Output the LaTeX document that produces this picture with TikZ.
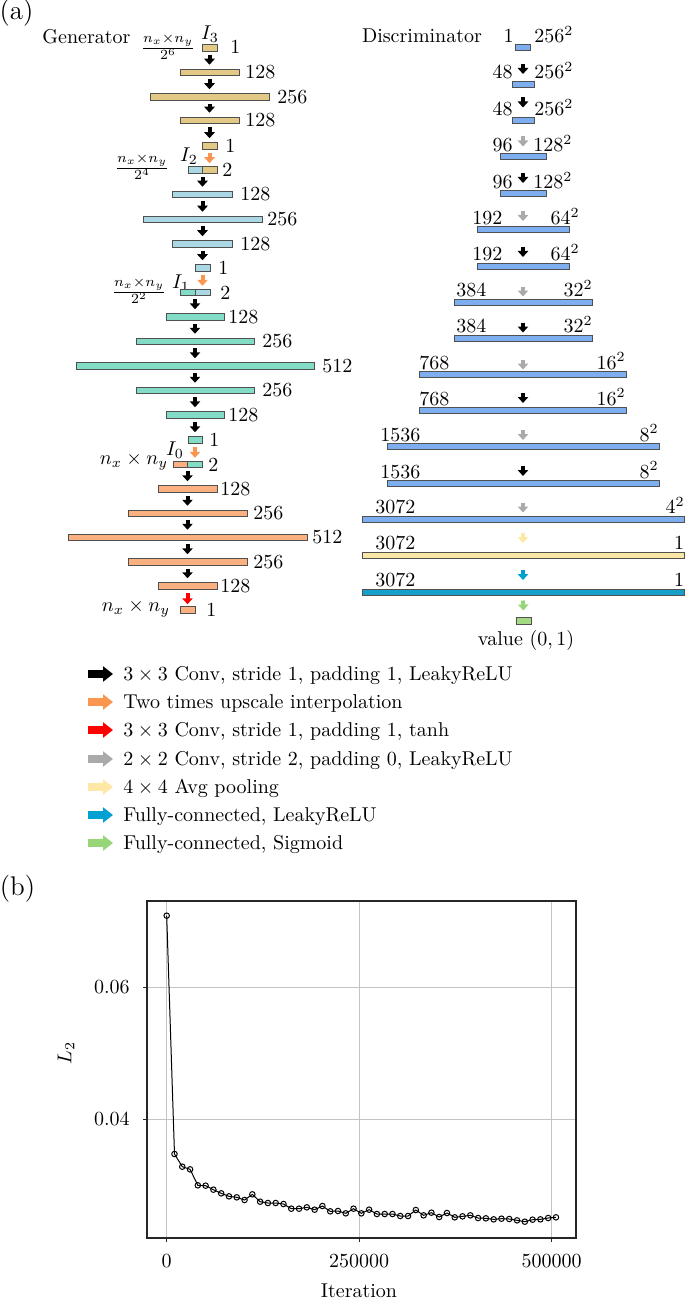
\documentclass[tikz,border=0pt]{standalone}
\usetikzlibrary{arrows.meta,calc}
\definecolor{edgec}{RGB}{80,80,80}
\definecolor{tanC}{RGB}{226,201,133}
\definecolor{lblueC}{RGB}{170,216,228}
\definecolor{lgreenC}{RGB}{130,220,198}
\definecolor{lorangeC}{RGB}{250,176,128}
\definecolor{dblueC}{RGB}{125,174,240}
\definecolor{yellowC}{RGB}{250,230,165}
\definecolor{tealC}{RGB}{20,160,200}
\definecolor{vgreenC}{RGB}{165,216,130}
\definecolor{arrOrange}{RGB}{250,150,80}
\definecolor{arrRed}{RGB}{255,0,0}
\definecolor{arrGray}{RGB}{170,170,170}
\definecolor{arrYellow}{RGB}{255,232,165}
\definecolor{arrBlue}{RGB}{0,160,210}
\definecolor{arrGreen}{RGB}{150,214,120}
\definecolor{gridC}{RGB}{195,195,195}
\newcommand\dconn[5]{\draw[fat,draw=#1,shorten <=#4,shorten >=#5] (#2) -- (#3);}
\begin{document}
\begin{tikzpicture}[x=0.5pt,y=-0.5pt,
  bx/.style={draw=edgec,line width=0.5pt,inner sep=0pt,minimum height=3.25pt},
  dbx/.style={draw=edgec,line width=0.5pt,inner sep=0pt,minimum height=3pt},
  w/.style={minimum width=#1*0.5pt},
  lab/.style={inner sep=0pt,anchor=west},
  dl/.style={inner sep=0pt,anchor=base west},
  dr/.style={inner sep=0pt,anchor=base east},
  fat/.style={line width=2pt,-{Triangle[width=5.2pt,length=3pt]}},
  gconn/.style={fat,shorten <=1.5pt,shorten >=2pt},
  legarr/.style={line width=4pt,-{Triangle[width=7.5pt,length=5pt]}},
  legtxt/.style={inner sep=0pt,anchor=base west},
  panel/.style={inner sep=0pt,font=\fontsize{13.5}{15}\selectfont},
  mk/.style={circle,draw=black,line width=0.5pt,inner sep=0pt,minimum size=5.5*0.5pt},
]
\useasboundingbox (0,0) rectangle (685,1300);

\node[panel] (pa) at (16.5,13) {(a)};
\node[inner sep=0pt,anchor=base] (gen) at (86.5,43.5) {Generator};
\node[inner sep=0pt,anchor=base] (dis) at (422,43) {Discriminator};

% ---------------- Generator stage 3
\node[inner sep=0pt] (f3) at (168,47) {$\frac{n_x\times n_y}{2^6}$};
\node[inner sep=0pt] (i3) at (210,34) {$I_3$};
\node[bx,w=15,fill=tanC] (G3a) at (209.5,48) {};
\node[bx,w=59,fill=tanC] (G3b) at (209.5,72.5) {};
\node[bx,w=119,fill=tanC] (G3c) at (209.5,97) {};
\node[bx,w=59,fill=tanC] (G3d) at (209.5,120.5) {};
\node[bx,w=15,fill=tanC] (G3e) at (209.5,146) {};
\node[lab] at (230,47) {1};
\node[lab] at (245,72.5) {128};
\node[lab] at (277,97) {256};
\node[lab] at (245,120.5) {128};
\node[lab] at (225,146) {1};
\draw[gconn] (G3a.south) -- (G3b.north);
\draw[gconn] (G3b.south) -- (G3c.north);
\draw[gconn] (G3c.south) -- (G3d.north);
\draw[gconn] (G3d.south) -- (G3e.north);

% ---------------- Stage 2
\node[inner sep=0pt] (f2) at (142,167) {$\frac{n_x\times n_y}{2^4}$};
\node[inner sep=0pt] (i2) at (189,156) {$I_2$};
\node[bx,w=29,fill=lblueC] (C2) at (202.5,170) {};
\node[bx,w=14.5,fill=tanC] (C2r) at (209.75,170) {};
\node[lab] at (222,170) {2};
\draw[gconn,draw=arrOrange,shorten >=1.5pt] (G3e.south) -- (G3e.south |- C2r.north);
\node[bx,w=60,fill=lblueC] (G2b) at (202.5,194.5) {};
\node[bx,w=119,fill=lblueC] (G2c) at (202.5,219.5) {};
\node[bx,w=60,fill=lblueC] (G2d) at (202.5,244) {};
\node[bx,w=15,fill=lblueC] (G2e) at (202.5,268) {};
\node[lab] at (240,194.5) {128};
\node[lab] at (267,219.5) {256};
\node[lab] at (240,244) {128};
\node[lab] at (218,268) {1};
\draw[gconn] (C2.south) -- (G2b.north);
\draw[gconn] (G2b.south) -- (G2c.north);
\draw[gconn] (G2c.south) -- (G2d.north);
\draw[gconn] (G2d.south) -- (G2e.north);

% ---------------- Stage 1
\node[inner sep=0pt] (f1) at (139,291) {$\frac{n_x\times n_y}{2^2}$};
\node[inner sep=0pt] (i1) at (181,283) {$I_1$};
\node[bx,w=30,fill=lgreenC] (C1) at (195,292.5) {};
\node[bx,w=15,fill=lblueC] (C1r) at (202.5,292.5) {};
\node[lab] at (220,292.5) {2};
\draw[gconn,draw=arrOrange,shorten >=1.5pt] (G2e.south) -- (G2e.south |- C1r.north);
\node[bx,w=58,fill=lgreenC] (G1b) at (195,317) {};
\node[bx,w=118,fill=lgreenC] (G1c) at (195,341.5) {};
\node[bx,w=238,fill=lgreenC] (G1d) at (195,366) {};
\node[bx,w=118,fill=lgreenC] (G1e) at (195,390.5) {};
\node[bx,w=58,fill=lgreenC] (G1f) at (195,415) {};
\node[bx,w=14,fill=lgreenC] (G1g) at (195,440) {};
\node[lab] at (228,317) {128};
\node[lab] at (262,341.5) {256};
\node[lab] at (322,366) {512};
\node[lab] at (262,390.5) {256};
\node[lab] at (228,415) {128};
\node[lab] at (209,440) {1};
\draw[gconn] (C1.south) -- (G1b.north);
\draw[gconn] (G1b.south) -- (G1c.north);
\draw[gconn] (G1c.south) -- (G1d.north);
\draw[gconn] (G1d.south) -- (G1e.north);
\draw[gconn] (G1e.south) -- (G1f.north);
\draw[gconn] (G1f.south) -- (G1g.north);

% ---------------- Stage 0
\node[inner sep=0pt] (n0) at (134,462) {$n_x \times n_y$};
\node[inner sep=0pt] (i0) at (175,450) {$I_0$};
\node[bx,w=29,fill=lorangeC] (C0) at (187.5,464.5) {};
\node[bx,w=14.5,fill=lgreenC] (C0r) at (194.75,464.5) {};
\node[lab] at (208,464.5) {2};
\draw[gconn,draw=arrOrange,shorten >=1.5pt] (G1g.south) -- (G1g.south |- C0r.north);
\node[bx,w=59,fill=lorangeC] (G0b) at (187.5,489) {};
\node[bx,w=119,fill=lorangeC] (G0c) at (187.5,513.5) {};
\node[bx,w=239,fill=lorangeC] (G0d) at (187.5,537.5) {};
\node[bx,w=119,fill=lorangeC] (G0e) at (187.5,562) {};
\node[bx,w=59,fill=lorangeC] (G0f) at (187.5,586) {};
\node[bx,w=15,fill=lorangeC] (G0g) at (187.5,610) {};
\node[lab] at (220,489) {128};
\node[lab] at (253,513.5) {256};
\node[lab] at (312,537.5) {512};
\node[lab] at (253,562) {256};
\node[lab] at (220,586) {128};
\node[lab] at (206,610) {1};
\node[inner sep=0pt] (nout) at (136,609) {$n_x \times n_y$};
\draw[gconn] (C0.south) -- (G0b.north);
\draw[gconn] (G0b.south) -- (G0c.north);
\draw[gconn] (G0c.south) -- (G0d.north);
\draw[gconn] (G0d.south) -- (G0e.north);
\draw[gconn] (G0e.south) -- (G0f.north);
\draw[gconn,draw=arrRed,shorten >=1pt] (G0f.south) -- (G0g.north);

% ---------------- Discriminator
\node[dbx,w=15,fill=dblueC] (D0) at (523,48) {};
\node[dbx,w=22,fill=dblueC] (D1) at (523,84.5) {};
\node[dbx,w=22,fill=dblueC] (D2) at (523,121) {};
\node[dbx,w=46,fill=dblueC] (D3) at (523,157) {};
\node[dbx,w=46,fill=dblueC] (D4) at (523,194) {};
\node[dbx,w=92,fill=dblueC] (D5) at (523,230) {};
\node[dbx,w=92,fill=dblueC] (D6) at (523,266) {};
\node[dbx,w=138,fill=dblueC] (D7) at (523,302) {};
\node[dbx,w=138,fill=dblueC] (D8) at (523,338) {};
\node[dbx,w=207,fill=dblueC] (D9) at (523,374.5) {};
\node[dbx,w=207,fill=dblueC] (D10) at (523,410.5) {};
\node[dbx,w=272,fill=dblueC] (D11) at (523,446.5) {};
\node[dbx,w=272,fill=dblueC] (D12) at (523,483.5) {};
\node[dbx,w=322,fill=dblueC] (D13) at (523,519.5) {};
\node[dbx,w=322,fill=yellowC] (D14) at (523,555.5) {};
\node[dbx,w=322,fill=tealC] (D15) at (523,592) {};
\node[dbx,w=15,minimum height=3.5pt,fill=vgreenC] (D16) at (523.5,620.5) {};

\node[dr] at (514,43) {1};        \node[dl] at (534,43) {$256^2$};
\node[dr] at (513,79) {48};       \node[dl] at (534,79) {$256^2$};
\node[dr] at (513,115.5) {48};    \node[dl] at (534,115.5) {$256^2$};
\node[dr] at (513,151.5) {96};    \node[dl] at (533,151.5) {$128^2$};
\node[dr] at (513,188.5) {96};    \node[dl] at (533,188.5) {$128^2$};
\node[dl] at (472,224.5) {192};   \node[dr] at (580,224.5) {$64^2$};
\node[dl] at (472,260.5) {192};   \node[dr] at (580,260.5) {$64^2$};
\node[dl] at (456,296.5) {384};   \node[dr] at (593,296.5) {$32^2$};
\node[dl] at (456,332.5) {384};   \node[dr] at (593,332.5) {$32^2$};
\node[dl] at (419,369) {768};     \node[dr] at (626,369) {$16^2$};
\node[dl] at (419,405) {768};     \node[dr] at (626,405) {$16^2$};
\node[dl] at (380,441) {1536};    \node[dr] at (659,441) {$8^2$};
\node[dl] at (380,478) {1536};    \node[dr] at (659,478) {$8^2$};
\node[dl] at (375,513.5) {3072};  \node[dr] at (685,513.5) {$4^2$};
\node[dl] at (375,549.5) {3072};  \node[dr] at (684.5,549.5) {1};
\node[dl] at (375,586) {3072};    \node[dr] at (684.5,586) {1};
\node[inner sep=0pt] (val) at (526,640) {value $(0,1)$};

\dconn{black}{D0.south}{D1.north}{6.25pt}{3.5pt}
\dconn{black}{D1.south}{D2.north}{4.75pt}{5pt}
\dconn{arrGray}{D2.south}{D3.north}{6pt}{3.5pt}
\dconn{black}{D3.south}{D4.north}{6.25pt}{3.75pt}
\dconn{arrGray}{D4.south}{D5.north}{6.75pt}{2.75pt}
\dconn{black}{D5.south}{D6.north}{6.75pt}{2.75pt}
\dconn{arrGray}{D6.south}{D7.north}{8.5pt}{1pt}
\dconn{black}{D7.south}{D8.north}{8.5pt}{1pt}
\dconn{arrGray}{D8.south}{D9.north}{9pt}{0.75pt}
\dconn{black}{D9.south}{D10.north}{7.5pt}{2pt}
\dconn{arrGray}{D10.south}{D11.north}{8pt}{1.5pt}
\dconn{black}{D11.south}{D12.north}{8pt}{2pt}
\dconn{arrGray}{D12.south}{D13.north}{7.75pt}{1.75pt}
\dconn{arrYellow}{D13.south}{D14.north}{5pt}{4.5pt}
\dconn{arrBlue}{D14.south}{D15.north}{5.5pt}{4.25pt}
\dconn{arrGreen}{D15.south}{D16.north}{2.5pt}{3pt}

% ---------------- Legend
\draw[legarr,black] (88,674) -- (113,674);
\draw[legarr,arrOrange] (88,702) -- (113,702);
\draw[legarr,arrRed] (88,730) -- (113,730);
\draw[legarr,arrGray] (88,759) -- (113,759);
\draw[legarr,arrYellow] (88,787) -- (113,787);
\draw[legarr,arrBlue] (88,815) -- (113,815);
\draw[legarr,arrGreen] (88,843) -- (113,843);
\node[legtxt] at (123,680.5) {$3\times3$ Conv, stride 1, padding 1, LeakyReLU};
\node[legtxt] at (123,708.5) {Two times upscale interpolation};
\node[legtxt] at (123,736.5) {$3\times3$ Conv, stride 1, padding 1, tanh};
\node[legtxt] at (123,765.5) {$2\times2$ Conv, stride 2, padding 0, LeakyReLU};
\node[legtxt] at (123,793.5) {$4\times4$ Avg pooling};
\node[legtxt] at (123,821.5) {Fully-connected, LeakyReLU};
\node[legtxt] at (123,849.5) {Fully-connected, Sigmoid};

% ---------------- Plot (b)
\node[panel] (pb) at (17.5,889) {(b)};
\draw[gridC,line width=0.5pt] (166.7,901) -- (166.7,1238) (359.2,901) -- (359.2,1238) (551.7,901) -- (551.7,1238)
  (147,987) -- (576,987) (147,1119) -- (576,1119);
\draw[black!85,line width=0.6pt] (147,901) rectangle (576,1238);
\draw[black!85,line width=0.5pt] (143,987) -- (147,987) (143,1119) -- (147,1119)
  (166.7,1238) -- (166.7,1242) (359.2,1238) -- (359.2,1242) (551.7,1238) -- (551.7,1242);
\node[inner sep=0pt,anchor=east] at (130,987) {0.06};
\node[inner sep=0pt,anchor=east] at (130,1119) {0.04};
\node[inner sep=0pt,anchor=north] at (166.7,1253.5) {0};
\node[inner sep=0pt,anchor=north] at (359.2,1253.5) {250000};
\node[inner sep=0pt,anchor=north] at (551.7,1253.5) {500000};
\node[inner sep=0pt,anchor=base] at (359,1297.5) {Iteration};
\node[inner sep=0pt,rotate=90] at (66,1053) {$L_2$};

\foreach \k/\v in {0/107,1/822,2/860,3/868,4/916,5/917,6/929,7/940,8/949,9/952,10/960,
  11/943,12/965,13/969,14/969,15/972,16/986,17/986,18/982,19/989,20/978,
  21/994,22/993,23/1000,24/986,25/1000,26/989,27/1002,28/1002,29/1002,30/1008,
  31/1008,32/990,33/1006,34/998,35/1011,36/999,37/1012,38/1009,39/1006,40/1014,
  41/1015,42/1018,43/1016,44/1017,45/1021,46/1025,47/1019,48/1018,49/1014,50/1012}
  \coordinate (p\k) at ({166.7+7.785*\k},{880+\v/3});
\draw[black,line width=0.5pt] (p0) foreach \k in {1,...,50} { -- (p\k) };
\foreach \k in {0,...,50} \node[mk] (m\k) at (p\k) {};
\end{tikzpicture}
\end{document}
